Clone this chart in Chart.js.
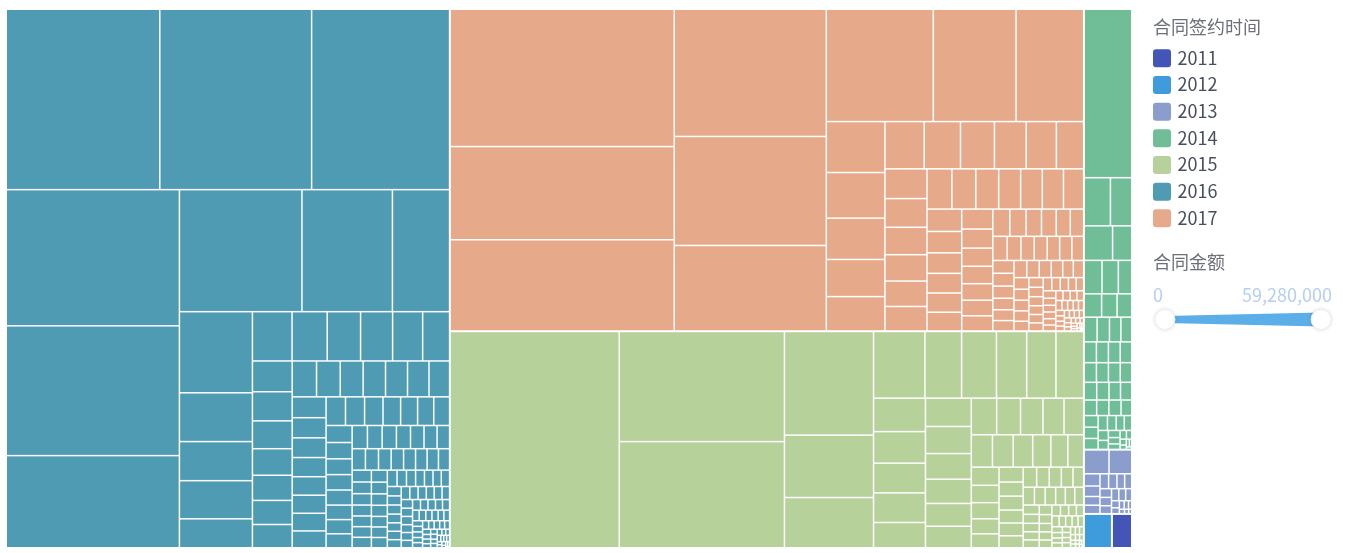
<!DOCTYPE html>
<html lang="zh-CN">
<head>
<meta charset="utf-8">
<title>合同金额树图</title>
<script src="https://cdn.jsdelivr.net/npm/chart.js@4.4.1/dist/chart.umd.min.js"></script>
<style>
  html, body { margin: 0; padding: 0; background: #fff; }
  #wrap { width: 1353px; height: 553px; position: relative; }
</style>
</head>
<body>
<div id="wrap"><canvas id="treeChart"></canvas></div>
<script>
// 合同签约年份 + 配色
const years = ['2011', '2012', '2013', '2014', '2015', '2016', '2017'];
const yearColors = ['#4355b7', '#3e9bdc', '#8a9dcc', '#70be98', '#b7d19b', '#4e9bb3', '#e6a98a'];

// 每份合同金额（万元），按图中色块面积估读
const amount2011 = [146];
const amount2012 = [204];
const amount2013 = [129, 118, 42, 36, 30, 29, 28, 27, 25, 23, 22, 21, 20, 19, 18, 16, 12, 10, 9, 8, 6, 5, 4, 3];
const amount2014 = [1732, 273, 222, 212, 143, 129, 118, 97, 88, 78, 74, 69, 66, 61, 58, 55, 54, 53, 52, 52,
  51, 50, 49, 48, 47, 44, 43, 42, 41, 41, 36, 35, 34, 33, 30, 28, 26, 24, 22, 20, 18, 16, 14, 12, 10, 8, 6, 5, 4, 3];
const amount2015 = [7840, 3898, 3756, 1979, 1191, 959,
  734, 524, 498, 432, 418, 396, 372, 351, 331, 329, 281, 278, 266, 252, 238, 224, 211, 199,
  187, 176, 165, 154, 147, 144, 135, 126, 118, 110, 108, 103, 96, 89, 83, 77, 73, 72, 67, 66, 62, 58,
  54, 52, 50, 46, 43, 41, 40, 37, 36, 34, 32, 31, 29, 28, 27, 26, 24, 23, 22, 21, 20, 19, 18, 17, 17,
  15, 15, 14, 13, 13, 12, 11, 11, 10, 9, 9, 9, 8, 7, 7, 6, 5, 5, 4, 4, 3, 3, 2, 2, 2, 1];
const amount2016 = [5928, 5863, 5326, 5047, 4811, 3415, 3200, 2363, 1493,
  1268, 762, 611, 596, 452, 418, 371, 352, 338, 317, 284, 262, 248, 237, 226, 214, 205, 198,
  187, 182, 176, 172, 169, 165, 158, 151, 146, 143, 139, 134, 131, 128, 122, 119, 117, 113, 108, 104,
  99, 97, 95, 91, 88, 86, 84, 81, 79, 78, 76, 73, 71, 70, 67, 65, 62, 61, 60, 58, 57, 55, 53, 52, 51,
  49, 48, 47, 45, 44, 44, 43, 41, 40, 39, 38, 36, 36, 35, 34, 33, 32, 31, 30, 29, 29, 28, 27, 27, 26,
  25, 25, 24, 24, 23, 23, 22, 22, 21, 21, 20, 20, 19, 19, 18, 18, 17, 17, 16, 16, 15, 15, 14, 14,
  13, 13, 12, 12, 12, 11, 11, 11, 10, 10, 9, 9, 9, 8, 8, 7, 7, 7, 6, 6, 6, 5, 5, 5, 4, 4, 4,
  3, 3, 3, 2, 2, 2, 1];
const amount2017 = [6591, 4474, 4378, 4141, 3549, 2784, 2573, 1990, 1626,
  639, 572, 518, 466, 431, 398, 367, 344, 322, 305, 276, 268, 259, 247, 238, 229, 221, 214,
  206, 197, 189, 187, 182, 174, 166, 159, 152, 146, 143, 139, 133, 127, 121, 116, 110, 104, 101, 99,
  95, 90, 86, 82, 78, 74, 71, 69, 67, 64, 63, 61, 58, 58, 55, 52, 49, 47, 47, 46, 44, 42, 39, 38,
  37, 35, 34, 33, 31, 30, 29, 28, 27, 26, 25, 24, 24, 23, 22, 21, 20, 19, 18, 18, 17, 16, 15, 15,
  14, 14, 13, 12, 12, 11, 11, 10, 10, 9, 9, 8, 8, 8, 7, 7, 6, 6, 5, 5, 4, 4, 3, 3, 3, 2, 2, 2, 1, 1];
const amountsByYear = [amount2011, amount2012, amount2013, amount2014, amount2015, amount2016, amount2017];

// visualMap 两端刻度
const amountRange = [0, 59280000];
const legendTitle = '合同签约时间';
const rangeTitle = '合同金额';

const FONT = '"Noto Sans CJK SC", "Noto Sans", sans-serif';
const SQUARE_RATIO = 0.5 * (1 + Math.sqrt(5));
const GROUP_GAP = 0.25;
const CELL_GAP = 0.75;

// squarify, same rules as echarts treemap
function worst(row, rowArea, fixed) {
  let max = 0, min = Infinity;
  row.forEach(it => {
    if (it.area) { min = Math.min(min, it.area); max = Math.max(max, it.area); }
  });
  const sq = rowArea * rowArea;
  const f = fixed * fixed * SQUARE_RATIO;
  return sq ? Math.max(f * max / sq, sq / (f * min)) : Infinity;
}

function placeRow(row, rowArea, fixed, r, flush) {
  const horiz = fixed === r.w;
  let thick = fixed ? rowArea / fixed : 0;
  const avail = horiz ? r.h : r.w;
  if (flush || thick > avail) thick = avail;
  let pos = horiz ? r.x : r.y;
  const end = horiz ? r.x + r.w : r.y + r.h;
  row.forEach((it, i) => {
    const step = thick ? it.area / thick : 0;
    const remain = end - pos;
    const len = (i === row.length - 1 || remain < step) ? remain : step;
    it.rect = horiz ? {x: pos, y: r.y, w: len, h: thick} : {x: r.x, y: pos, w: thick, h: len};
    pos += len;
  });
  if (horiz) { r.y += thick; r.h -= thick; } else { r.x += thick; r.w -= thick; }
}

function squarify(items, rect) {
  const total = items.reduce((s, it) => s + it.value, 0);
  items.forEach(it => { it.area = it.value / total * rect.w * rect.h; });
  const r = {x: rect.x, y: rect.y, w: rect.w, h: rect.h};
  let fixed = Math.min(r.w, r.h);
  let row = [], rowArea = 0, best = Infinity;
  for (let i = 0; i < items.length;) {
    const it = items[i];
    row.push(it);
    rowArea += it.area;
    const score = worst(row, rowArea, fixed);
    if (score <= best) {
      i++;
      best = score;
    } else {
      row.pop();
      rowArea -= it.area;
      placeRow(row, rowArea, fixed, r, false);
      fixed = Math.min(r.w, r.h);
      row = [];
      rowArea = 0;
      best = Infinity;
    }
  }
  if (row.length) placeRow(row, rowArea, fixed, r, true);
}

function inset(rc, d) {
  return {x: rc.x + d, y: rc.y + d, w: Math.max(rc.w - 2 * d, 0), h: Math.max(rc.h - 2 * d, 0)};
}

class TreemapCell extends Chart.Element {
  draw(ctx) {
    if (!(this.width > 0 && this.height > 0)) return;
    ctx.fillStyle = this.color;
    ctx.fillRect(this.x, this.y, this.width, this.height);
  }
}
TreemapCell.id = 'treemapCell';
TreemapCell.defaults = {};

class TreemapController extends Chart.DatasetController {
  parse() {}            // leaves are read straight from dataset.data
  updateElements() {}
  update() {
    const meta = this._cachedMeta;
    const xs = meta.xScale, ys = meta.yScale;
    const left = xs.getPixelForValue(0), right = xs.getPixelForValue(1);
    const top = ys.getPixelForValue(1), bottom = ys.getPixelForValue(0);
    const leaves = this.getDataset().data;

    const groups = years.map((y, i) => ({index: i, value: 0, leaves: []}));
    leaves.forEach((d, i) => {
      groups[d.group].value += d.value;
      groups[d.group].leaves.push({value: d.value, el: meta.data[i]});
    });
    const shown = groups.filter(g => g.value > 0).sort((a, b) => b.value - a.value);
    squarify(shown, {x: left, y: top, w: right - left, h: bottom - top});

    shown.forEach(g => {
      const box = inset(g.rect, GROUP_GAP);
      const items = g.leaves.sort((a, b) => b.value - a.value);
      squarify(items, box);
      items.forEach(it => {
        const c = inset(it.rect, CELL_GAP);
        Object.assign(it.el, {x: c.x, y: c.y, width: c.w, height: c.h, color: yearColors[g.index]});
      });
    });
  }
}
TreemapController.id = 'treemap';
TreemapController.defaults = {dataElementType: 'treemapCell', datasetElementType: false};

Chart.register(TreemapController, TreemapCell);

function roundBox(ctx, x, y, w, h, r) {
  ctx.beginPath();
  ctx.moveTo(x + r, y);
  ctx.arcTo(x + w, y, x + w, y + h, r);
  ctx.arcTo(x + w, y + h, x, y + h, r);
  ctx.arcTo(x, y + h, x, y, r);
  ctx.arcTo(x, y, x + w, y, r);
  ctx.closePath();
  ctx.fill();
}

// legend + visualMap on the right
const sidePanel = {
  id: 'sidePanel',
  afterDraw(chart) {
    const ctx = chart.ctx;
    const x0 = chart.chartArea.right + 21;
    ctx.save();
    ctx.font = '18px ' + FONT;
    ctx.textAlign = 'left';
    ctx.textBaseline = 'middle';
    ctx.fillStyle = '#6e7079';
    ctx.fillText(legendTitle, x0, 27.5);

    years.forEach((label, i) => {
      const cy = 58.3 + i * 26.67;
      ctx.fillStyle = yearColors[i];
      roundBox(ctx, x0, cy - 9, 18, 18, 3);
      ctx.fillStyle = '#4a4f5c';
      ctx.textBaseline = 'alphabetic';
      ctx.fillText(label, x0 + 24.5, cy + 6.3);
    });

    ctx.textBaseline = 'middle';
    ctx.fillStyle = '#6e7079';
    ctx.fillText(rangeTitle, x0, 262.5);

    ctx.fillStyle = '#b6cef2';
    ctx.textBaseline = 'alphabetic';
    ctx.fillText(amountRange[0].toLocaleString('en-US'), x0, 301.5);
    ctx.textAlign = 'right';
    ctx.fillText(amountRange[1].toLocaleString('en-US'), x0 + 179, 301.5);

    const a = x0 + 12, b = x0 + 168, cy = 319.5;
    ctx.fillStyle = '#5caee8';
    ctx.beginPath();
    ctx.moveTo(a, cy - 3.5);
    ctx.lineTo(b, cy - 7);
    ctx.lineTo(b, cy + 7);
    ctx.lineTo(a, cy + 3.5);
    ctx.closePath();
    ctx.fill();

    [a, b].forEach(hx => {
      ctx.save();
      ctx.shadowColor = 'rgba(0,0,0,0.18)';
      ctx.shadowBlur = 4;
      ctx.fillStyle = '#fff';
      ctx.beginPath();
      ctx.arc(hx, cy, 10, 0, Math.PI * 2);
      ctx.fill();
      ctx.restore();
      ctx.strokeStyle = '#eceef2';
      ctx.lineWidth = 1;
      ctx.beginPath();
      ctx.arc(hx, cy, 10, 0, Math.PI * 2);
      ctx.stroke();
    });
    ctx.restore();
  }
};

const chart = new Chart(document.getElementById('treeChart'), {
  type: 'treemap',
  data: {
    datasets: [{
      label: rangeTitle,
      data: amountsByYear.flatMap((list, g) => list.map(v => ({group: g, value: v})))
    }]
  },
  options: {
    responsive: true,
    maintainAspectRatio: false,
    animation: false,
    events: [],
    layout: { padding: { left: 6, top: 9, right: 221, bottom: 5 } },
    scales: {
      x: { type: 'linear', min: 0, max: 1, display: false },
      y: { type: 'linear', min: 0, max: 1, display: false }
    },
    plugins: {
      legend: { display: false, labels: { generateLabels: () => [] } },
      tooltip: { enabled: false },
      colors: { enabled: false }
    }
  },
  plugins: [sidePanel]
});
</script>
</body>
</html>
